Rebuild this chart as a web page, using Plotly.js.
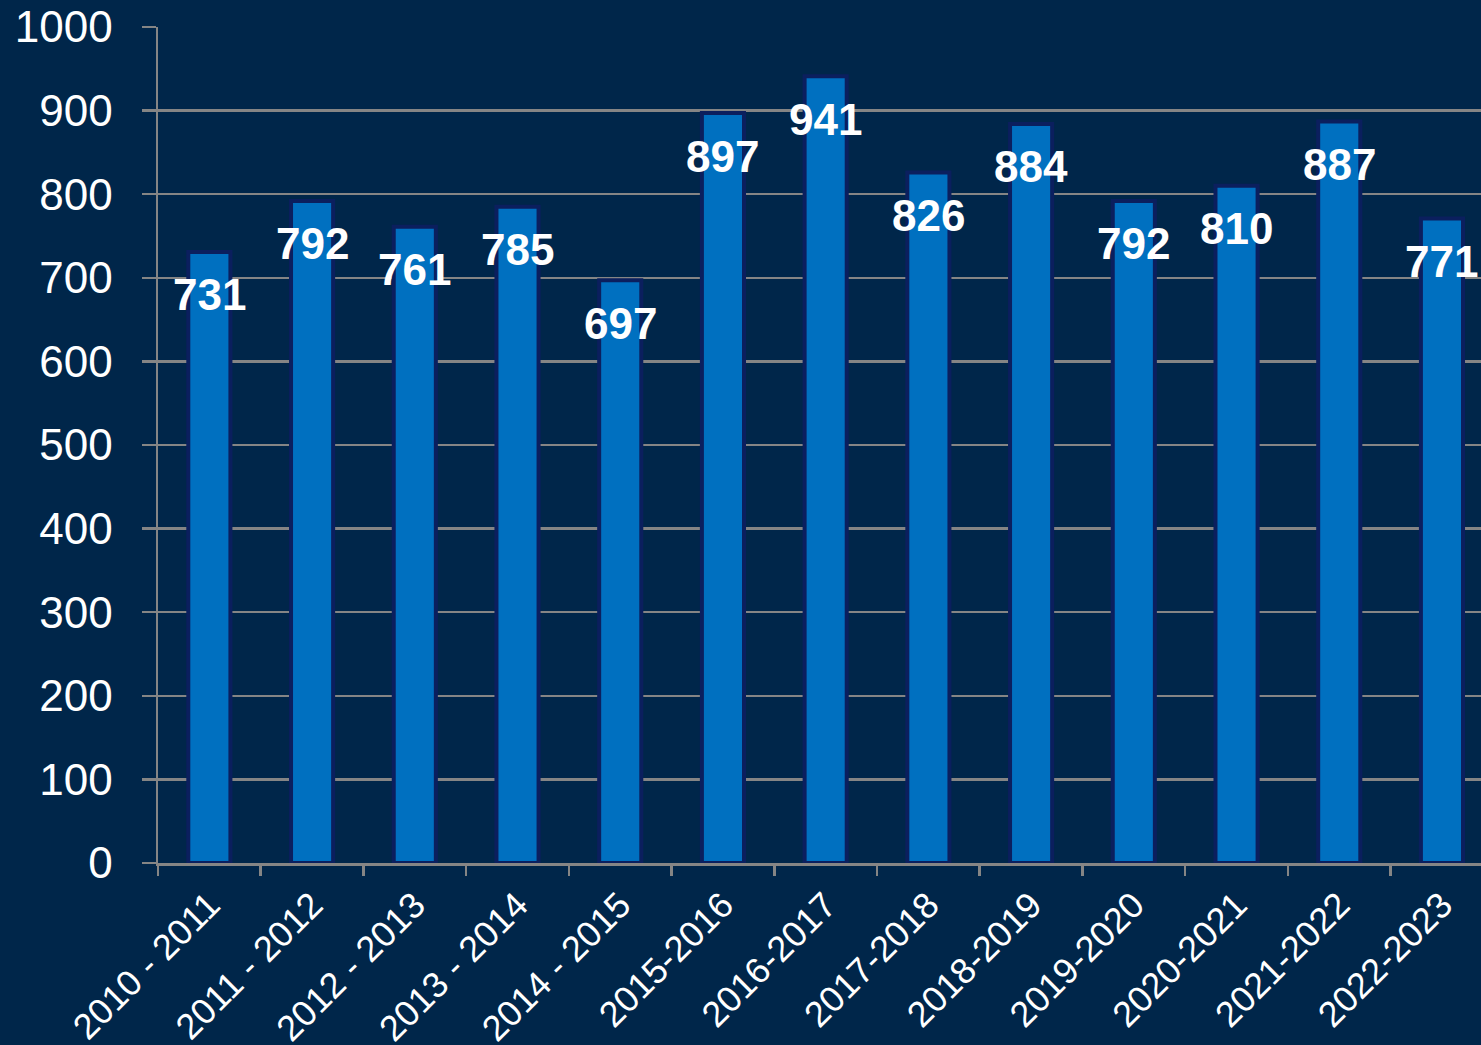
<!DOCTYPE html>
<html>
<head>
<meta charset="utf-8">
<script src="https://cdn.plot.ly/plotly-3.0.1.min.js"></script>
<style>
html,body{margin:0;padding:0;background:#00264A;}
#chart{width:1481px;height:1045px;}
</style>
</head>
<body>
<div id="chart"></div>
<script>
const seasons = ["2010 - 2011","2011 - 2012","2012 - 2013","2013 - 2014","2014 - 2015","2015-2016","2016-2017","2017-2018","2018-2019","2019-2020","2020-2021","2021-2022","2022-2023"];
const counts = [731, 792, 761, 785, 697, 897, 941, 826, 884, 792, 810, 887, 771];
const yTicks = [0,100,200,300,400,500,600,700,800,900,1000];

const bg = '#00264A';
const grid = '#858585';
const font = 'Liberation Sans, Arial, sans-serif';

const trace = {
  type: 'bar',
  x: seasons,
  y: counts,
  width: 0.41,
  marker: {color: '#0070C0', line: {color: '#0B1F5E', width: 4}},
  hoverinfo: 'skip'
};

const annotations = seasons.map((s, i) => ({
  x: s, y: counts[i], xref: 'x', yref: 'y',
  text: String(counts[i]), showarrow: false,
  xanchor: 'center', yanchor: 'middle', yshift: -43,
  font: {family: font, size: 44, color: '#FFFFFF', weight: 'bold'}
}));

const layout = {
  width: 1481, height: 1045,
  paper_bgcolor: bg, plot_bgcolor: bg,
  margin: {l: 158, r: 0, t: 27, b: 182},
  showlegend: false,
  xaxis: {
    type: 'category',
    range: [-0.5, 12.38],
    tickson: 'boundaries',
    ticks: 'outside', ticklen: 10, tickwidth: 2.5, tickcolor: grid,
    showline: true, linecolor: grid, linewidth: 2.5,
    showgrid: false, zeroline: false,
    tickangle: -45,
    ticklabelstandoff: 4,
    tickfont: {family: font, size: 36, color: '#FFFFFF'}
  },
  yaxis: {
    range: [0, 1000],
    tickvals: yTicks,
    ticktext: yTicks.map(String),
    ticks: 'outside', ticklen: 14, tickwidth: 2.5, tickcolor: grid,
    showline: true, linecolor: grid, linewidth: 2.5,
    showgrid: true, gridcolor: grid, gridwidth: 2.5,
    zeroline: false,
    ticklabelstandoff: 20,
    tickfont: {family: font, size: 44, color: '#FFFFFF'}
  },
  annotations: annotations
};

Plotly.newPlot('chart', [trace], layout, {displayModeBar: false, staticPlot: true});
</script>
</body>
</html>
